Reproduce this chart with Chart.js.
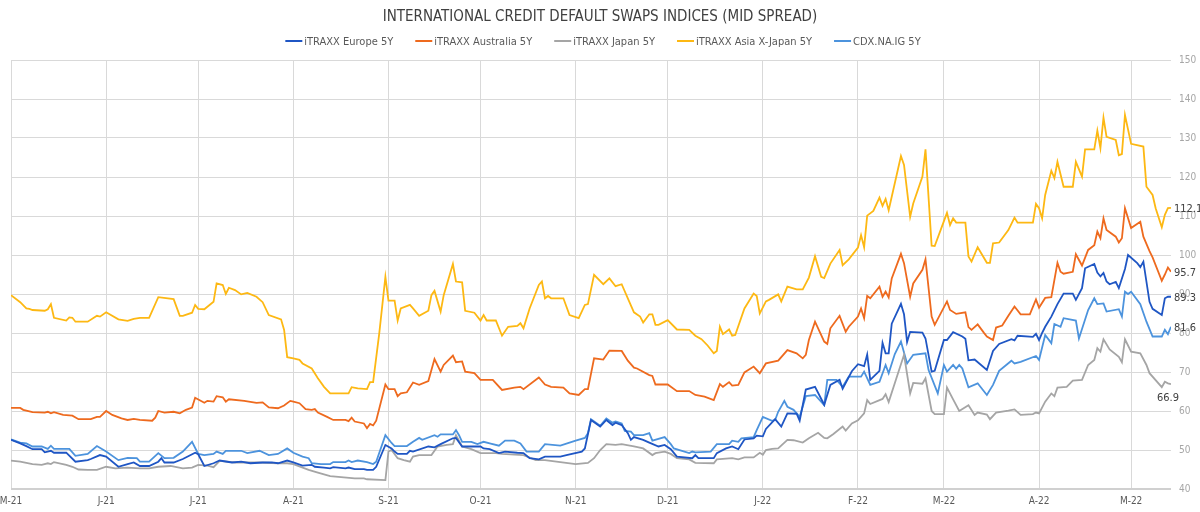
<!DOCTYPE html>
<html>
<head>
<meta charset="utf-8">
<script src="https://cdn.jsdelivr.net/npm/chart.js@4.4.1/dist/chart.umd.min.js"></script>
<style>
  html,body{margin:0;padding:0;background:#fff;}
  #wrap{width:1200px;height:512px;}
</style>
</head>
<body>
<div id="wrap"><canvas id="cds" width="1200" height="512"></canvas></div>
<script>
/* ── CDS indices · mid spread ─────────────────────────────────────────────── */

// x = days since 1 May 2021
const MONTH_DAYS   = [0,31,61,92,123,153,184,214,245,276,304,335,365];
const MONTH_LABELS = ["M-21","J-21","J-21","A-21","S-21","O-21","N-21","D-21","J-22","F-22","M-22","A-22","M-22"];

const SERIES_NAMES = ["iTRAXX Europe 5Y","iTRAXX Australia 5Y","iTRAXX Japan 5Y","iTRAXX Asia X-Japan 5Y","CDX.NA.IG 5Y"];
const END_LABELS   = ["89.3","95.7","66.9","112.1","81.6"];

// ── iTRAXX Europe 5Y
const EU_DAY = [0,3,5,7,10,11,13,14,18,21,25,26,29,31,35,38,40,42,45,48,49,50,53,56,60,61,63,66,68,72,75,78,82,85,87,90,92,95,98,99,102,104,105,109,110,112,115,116,118,119,122,124,125,126,129,130,131,136,138,140,144,145,147,153,154,156,159,161,165,167,169,172,174,179,181,186,187,189,192,194,196,197,199,201,202,203,206,208,211,213,215,217,222,223,224,229,230,233,235,237,239,242,243,245,246,249,251,253,256,257,259,262,265,267,270,271,274,276,278,279,280,283,284,285,286,287,290,291,292,293,297,298,300,301,304,305,307,310,311,312,314,318,320,322,326,327,328,333,334,335,336,337,339,341,343,346,347,349,350,353,354,355,356,357,358,360,361,363,364,367,368,369,371,372,375,376,377,378];
const EU_VAL = [52.6,51.7,51.0,50.2,50.2,49.4,49.8,49.3,49.3,47.0,47.4,47.7,48.7,48.3,45.7,46.4,46.8,45.9,45.9,47.0,47.9,46.8,46.8,47.7,49.3,48.9,45.9,46.6,47.3,46.8,47.0,46.6,46.8,46.8,46.6,47.3,46.8,46.0,46.2,45.7,45.5,45.3,45.6,45.3,45.5,45.1,45.1,44.9,44.9,45.7,51.3,50.4,49.6,49.0,49.0,49.8,49.6,50.9,50.7,51.5,53.0,53.1,50.9,50.9,50.4,50.2,49.2,49.6,49.3,49.2,47.9,47.6,48.3,48.3,48.7,49.6,50.4,57.7,56.0,57.7,56.4,57.0,56.4,54.3,52.6,53.3,52.6,51.9,50.9,51.3,50.2,48.3,47.9,48.7,47.9,47.9,49.2,50.4,50.9,50.2,52.7,53.0,53.7,53.5,55.4,57.9,56.0,59.4,59.3,57.5,65.5,66.2,61.6,66.7,68.0,65.7,70.2,72.0,71.5,74.5,68.0,70.3,77.5,74.8,74.8,82.4,87.5,84.8,77.7,80.3,80.1,78.6,70.1,70.3,78.2,78.2,80.2,79.1,78.5,73.0,73.2,70.5,75.4,77.2,78.4,78.1,79.3,79.0,79.8,78.2,80.0,81.6,84.2,87.4,90.1,90.1,88.5,91.5,96.6,97.7,95.5,94.5,95.4,93.2,92.5,93.1,91.5,96.4,100.0,97.9,96.9,98.3,88.0,86.2,84.6,88.9,89.3,89.3];

// ── iTRAXX Australia 5Y
const AU_DAY = [0,3,4,7,11,12,13,14,17,20,22,26,28,29,31,33,36,38,40,42,46,47,48,50,53,55,57,59,60,63,64,66,67,69,70,71,76,80,82,84,87,89,91,92,94,96,98,99,100,103,105,109,110,111,112,115,116,117,118,119,122,123,125,126,127,129,131,133,136,138,140,141,144,145,147,148,151,153,157,160,164,166,167,172,174,176,180,182,185,187,188,190,193,195,199,201,203,204,208,209,210,214,217,221,223,226,229,231,232,234,235,237,239,242,244,246,250,253,256,258,259,260,262,265,266,267,270,272,273,276,277,278,279,280,283,284,285,286,287,290,291,293,294,297,298,300,301,305,306,308,311,312,313,315,317,318,320,321,323,325,327,329,332,334,335,337,339,341,342,343,346,347,349,351,353,354,355,356,357,360,361,362,363,365,368,369,371,372,375,376,377,378];
const AU_VAL = [60.8,60.8,60.3,59.7,59.6,59.8,59.4,59.7,59.0,58.8,57.9,57.9,58.5,58.5,60.0,59.0,58.1,57.7,58.0,57.7,57.5,58.3,60.0,59.6,59.8,59.4,60.3,60.9,63.4,62.1,62.6,62.4,63.8,63.5,62.4,63.0,62.6,62.1,62.2,60.9,60.7,61.4,62.6,62.4,62.0,60.5,60.3,60.5,59.6,58.5,57.7,57.7,57.4,58.3,57.3,56.8,55.6,56.7,56.3,57.5,66.8,65.6,65.6,63.8,64.5,64.8,67.3,66.7,67.7,73.3,70.1,71.8,74.2,72.5,72.7,70.1,69.7,68.0,68.0,65.4,66.0,66.2,65.6,68.6,66.8,66.2,66.0,64.5,64.1,65.6,65.6,73.5,73.2,75.5,75.4,72.9,71.1,70.9,69.2,69.0,66.8,66.8,65.1,65.1,64.1,63.7,62.8,66.9,66.2,67.4,66.5,66.7,69.9,71.4,69.7,72.2,72.9,75.6,74.8,73.5,74.4,78.2,82.9,77.8,77.2,81.2,84.4,80.3,81.6,84.2,86.3,83.8,89.5,88.9,91.9,89.3,90.6,89.1,94.0,100.3,97.9,89.3,92.7,96.2,98.9,84.2,82.1,88.1,85.9,84.9,85.3,81.5,80.8,82.2,80.1,79.1,78.2,81.4,81.9,84.4,86.8,84.8,84.8,88.6,86.5,89.0,89.2,98.0,95.7,95.2,95.7,100.2,97.3,101.3,102.5,106.0,104.3,109.4,106.4,104.7,103.2,104.3,112.0,106.9,108.5,104.7,101.0,99.4,93.4,95.0,96.8,95.7];

// ── iTRAXX Japan 5Y
const JP_DAY = [0,3,7,10,12,13,14,18,20,22,25,28,31,34,38,42,45,48,52,56,59,61,64,66,68,73,78,81,87,90,92,97,100,104,112,115,116,122,123,124,126,128,130,131,133,137,139,142,144,145,147,150,153,158,160,167,171,174,179,184,188,190,192,194,197,199,203,206,209,210,213,215,217,221,223,229,230,235,237,239,242,244,245,246,248,250,253,255,258,260,263,265,266,268,271,272,274,276,278,279,280,284,285,286,291,293,294,297,298,300,301,304,305,307,309,312,314,315,318,319,321,325,327,329,333,334,335,337,339,340,341,344,346,349,351,353,354,355,356,358,361,362,363,365,368,370,371,375,376,377,378];
const JP_VAL = [47.3,47.0,46.4,46.2,46.6,46.4,46.9,46.2,45.7,45.0,44.9,44.9,45.7,45.3,45.5,45.3,45.3,45.7,45.9,45.3,45.5,46.2,46.0,45.6,47.2,46.8,46.8,46.8,46.6,46.6,46.4,44.9,44.2,43.3,42.7,42.7,42.5,42.3,49.6,50.0,47.9,47.4,47.0,48.3,48.7,48.7,50.9,51.3,51.5,53.8,50.9,50.2,49.2,49.2,49.0,48.7,47.4,47.4,46.9,46.4,46.7,47.9,50.0,51.5,51.3,51.5,50.9,50.4,48.7,49.2,49.6,49.0,47.9,47.6,46.7,46.6,47.6,47.9,47.6,48.1,48.1,49.3,48.8,50.0,50.3,50.4,52.6,52.5,51.9,53.0,54.4,53.1,53.0,54.1,56.0,55.0,56.8,57.6,59.4,62.8,61.8,63.1,64.3,62.3,74.4,64.5,67.2,67.0,68.4,60.0,59.2,59.2,66.0,63.0,60.0,61.5,59.0,59.6,59.1,57.9,59.6,60.1,60.4,59.0,59.2,59.6,59.4,62.4,64.5,63.8,66.0,66.2,67.8,68.0,71.8,73.1,76.1,75.2,78.4,75.8,73.9,72.5,78.4,75.2,74.8,71.8,69.7,66.1,67.5,67.1,66.9];

// ── iTRAXX Asia X-Japan 5Y
const AS_DAY = [0,3,5,6,7,11,12,13,14,18,19,20,21,25,28,29,31,35,38,40,42,45,48,53,55,56,59,60,61,63,66,67,69,70,71,73,75,77,80,82,84,88,89,90,92,94,95,98,100,102,104,110,111,113,116,117,118,120,122,123,125,126,127,130,131,133,136,137,138,140,141,144,145,147,148,151,153,154,155,158,160,162,165,166,167,169,172,173,174,175,176,180,182,185,187,188,190,193,195,197,199,201,203,205,206,208,209,210,211,214,217,221,223,225,227,229,230,231,232,234,235,236,239,242,243,244,246,247,250,251,253,256,258,260,262,264,265,267,270,271,273,276,277,278,279,281,283,284,285,286,290,291,293,294,297,298,300,301,305,306,307,308,311,312,313,315,318,319,320,322,325,327,328,333,334,335,336,337,339,340,341,343,346,347,349,350,353,354,355,356,357,360,361,362,363,365,369,370,372,373,375,376,377,378];
const AS_VAL = [89.7,87.9,86.3,86.2,85.9,85.7,86.1,87.4,83.9,83.2,84.0,83.9,82.9,82.9,84.4,84.2,85.3,83.5,83.1,83.6,83.9,83.9,89.2,88.7,84.4,84.4,85.2,87.2,86.2,86.1,88.0,92.7,92.3,90.0,91.6,91.0,89.9,90.3,89.3,87.9,84.6,83.5,80.8,73.8,73.5,73.1,72.2,70.9,68.4,66.2,64.5,64.5,66.1,65.8,65.6,67.4,67.4,79.9,94.4,88.3,88.3,83.2,86.3,87.2,86.3,84.4,85.7,89.7,90.8,85.5,89.7,97.7,93.2,93.0,85.7,85.2,83.2,84.6,83.2,83.2,79.3,81.6,81.8,82.5,81.2,86.3,92.3,93.2,88.9,89.5,88.9,88.9,84.6,83.8,87.2,87.4,94.9,92.5,94.0,92.0,92.5,88.9,85.3,84.2,82.7,84.8,84.8,82.1,82.1,83.3,80.9,80.8,79.3,78.4,76.8,74.8,75.4,81.6,79.7,80.9,79.3,79.5,86.3,90.1,89.5,85.0,88.1,88.5,89.9,88.1,91.9,91.2,91.2,94.2,99.7,94.4,94.1,97.8,101.3,97.4,98.9,101.9,105.1,102.0,110.1,111.3,114.7,112.6,114.4,111.5,125.4,123.1,109.8,113.2,120.1,127.1,102.4,102.3,110.8,107.7,109.4,108.3,108.3,99.6,98.3,102.0,98.0,98.0,103.0,103.2,106.4,109.6,108.3,108.3,113.1,112.0,109.4,115.4,121.6,119.7,123.9,117.5,117.5,123.9,120.1,127.1,127.1,131.9,127.4,135.2,130.3,129.5,125.6,125.9,135.9,128.5,127.8,117.5,115.4,112.0,107.1,110.3,112.0,112.1];

// ── CDX.NA.IG 5Y
const CDX_DAY = [0,3,5,7,10,12,13,14,19,21,25,28,31,35,38,41,42,45,48,50,53,56,59,61,63,66,67,69,70,75,77,81,84,87,90,92,95,97,98,101,104,105,109,110,111,113,116,118,119,122,124,125,129,131,133,134,138,139,140,144,145,146,147,150,152,154,156,159,161,164,166,168,172,174,179,184,187,188,189,192,194,196,197,199,200,202,203,206,208,209,213,215,216,221,222,223,228,230,234,235,237,238,242,243,245,248,249,250,252,253,255,257,259,262,265,266,269,271,273,277,278,280,283,285,286,288,290,292,294,298,299,302,304,305,307,308,309,310,312,315,318,320,322,326,327,329,334,335,337,339,340,342,343,347,348,351,353,354,356,357,361,362,363,364,365,368,370,372,375,376,377,378];
const CDX_VAL = [52.7,51.9,51.7,50.9,50.9,50.3,51.1,50.3,50.3,48.5,49.0,51.0,49.6,47.4,48.0,47.9,47.0,47.0,49.2,47.9,48.0,49.6,52.1,49.0,48.7,49.0,49.6,49.0,49.8,49.8,49.2,49.8,48.7,49.0,50.4,49.3,48.3,47.9,46.6,46.4,46.4,46.9,46.9,47.3,46.9,47.3,46.9,46.4,47.0,53.8,51.8,51.0,51.0,52.1,53.1,52.6,53.8,53.4,54.0,54.0,55.1,53.8,52.1,52.1,51.5,52.1,51.7,51.1,52.4,52.4,51.7,49.6,49.6,51.5,51.1,52.4,53.1,54.3,57.9,56.2,58.1,57.0,57.3,56.8,54.9,54.7,53.8,53.8,54.3,52.4,53.3,51.5,50.4,49.2,49.6,49.4,49.6,51.5,51.5,52.4,52.1,53.0,53.3,55.1,58.5,57.5,57.7,59.8,62.6,61.1,60.3,58.5,63.8,64.1,61.5,68.0,68.0,66.2,68.8,68.8,70.1,66.7,67.5,71.8,69.7,74.6,77.8,72.2,74.4,74.8,70.5,64.5,71.8,70.1,71.8,70.8,71.8,70.9,66.1,67.1,64.1,66.7,70.3,72.9,72.2,72.6,74.1,73.1,79.5,77.4,82.3,81.6,83.8,83.2,78.6,85.9,88.9,87.4,87.6,85.5,86.1,84.2,90.6,90.0,90.6,87.4,82.9,79.1,79.1,80.8,79.7,81.6];

const COLORS = ["#1F56C4","#EE6A1E","#A5A5A5","#FDB813","#4C93DD"];
const FONT = "'Liberation Sans Narrow','DejaVu Sans Condensed','Roboto',sans-serif";

const toXY = (days, vals) => days.map((d,i) => ({ x:d, y:vals[i] }));
const SERIES = [[EU_DAY,EU_VAL],[AU_DAY,AU_VAL],[JP_DAY,JP_VAL],[AS_DAY,AS_VAL],[CDX_DAY,CDX_VAL]];

// ── legend drawn on the canvas (line + text, centred) ─────────────────────────
const lineLegend = {
  id:"lineLegend",
  afterDraw(chart) {
    const ctx = chart.ctx, y = 41, lw = 17, gap = 2, sp = 22;
    ctx.save();
    ctx.font = `11px ${FONT}`;
    const widths = SERIES_NAMES.map(n => ctx.measureText(n).width);
    const total = widths.reduce((a,w) => a + lw + gap + w, 0) + sp*(SERIES_NAMES.length-1);
    let x = 603 - total/2;
    SERIES_NAMES.forEach((n,i) => {
      ctx.strokeStyle = COLORS[i]; ctx.lineWidth = 2;
      ctx.beginPath(); ctx.moveTo(x, y); ctx.lineTo(x+lw, y); ctx.stroke();
      ctx.fillStyle = "#595959"; ctx.textBaseline = "middle"; ctx.textAlign = "left";
      ctx.fillText(n, x+lw+gap, y+1);
      x += lw + gap + widths[i] + sp;
    });
    ctx.restore();
  }
};

// ── last value labels ─────────────────────────────────────────────────────────
const endLabels = {
  id:"endLabels",
  afterDatasetsDraw(chart) {
    const ctx = chart.ctx;
    ctx.save();
    ctx.font = `11px ${FONT}`;
    ctx.fillStyle = "#404040";
    ctx.textBaseline = "middle";
    chart.data.datasets.forEach((ds,i) => {
      const pts = chart.getDatasetMeta(i).data;
      const p = pts[pts.length-1];
      if (i === 2) { ctx.textAlign = "center"; ctx.fillText(END_LABELS[i], p.x-3, p.y+14); }
      else { ctx.textAlign = "left"; ctx.fillText(END_LABELS[i], p.x+3, p.y+1); }
    });
    ctx.restore();
  }
};

new Chart(document.getElementById("cds").getContext("2d"), {
  type:"line",
  data: {
    datasets: SERIES.map(([d,v],i) => ({
      label:SERIES_NAMES[i], data:toXY(d,v), borderColor:COLORS[i], backgroundColor:COLORS[i],
      borderWidth:1.8, pointRadius:0, tension:0, fill:false
    }))
  },
  options: {
    responsive:false, animation:false, maintainAspectRatio:false,
    layout:{ padding:{ left:0, right:0, top:0, bottom:0 } },
    plugins:{
      legend:{ display:false },
      tooltip:{ enabled:false },
      title:{ display:true, text:"INTERNATIONAL CREDIT DEFAULT SWAPS INDICES (MID SPREAD)",
        color:"#404040", font:{ family:FONT, size:15, weight:"normal" }, padding:{ top:8, bottom:34 } }
    },
    scales:{
      x:{
        type:"linear", min:0, max:378,
        afterBuildTicks: s => { s.ticks = MONTH_DAYS.map(v => ({ value:v })); },
        afterFit: s => { s.height = 23; s.paddingLeft = 11; s.paddingRight = 0; },
        ticks:{ autoSkip:false, maxRotation:0, padding:6, color:"#595959", font:{ family:FONT, size:10 },
          callback: v => MONTH_LABELS[MONTH_DAYS.indexOf(v)] },
        grid:{ color:"#d9d9d9", drawTicks:false },
        border:{ display:false }
      },
      y:{
        position:"right", min:40, max:150,
        afterFit: s => { s.width = 29; },
        ticks:{ stepSize:10, padding:8, color:"#a6a6a6", font:{ family:FONT, size:10 } },
        grid:{ drawTicks:false, color: c => c.tick.value === 40 ? "#d0d0d0" : "#d9d9d9",
          lineWidth: c => c.tick.value === 40 ? 2 : 1 },
        border:{ display:false }
      }
    }
  },
  plugins:[lineLegend, endLabels]
});
</script>
</body>
</html>
